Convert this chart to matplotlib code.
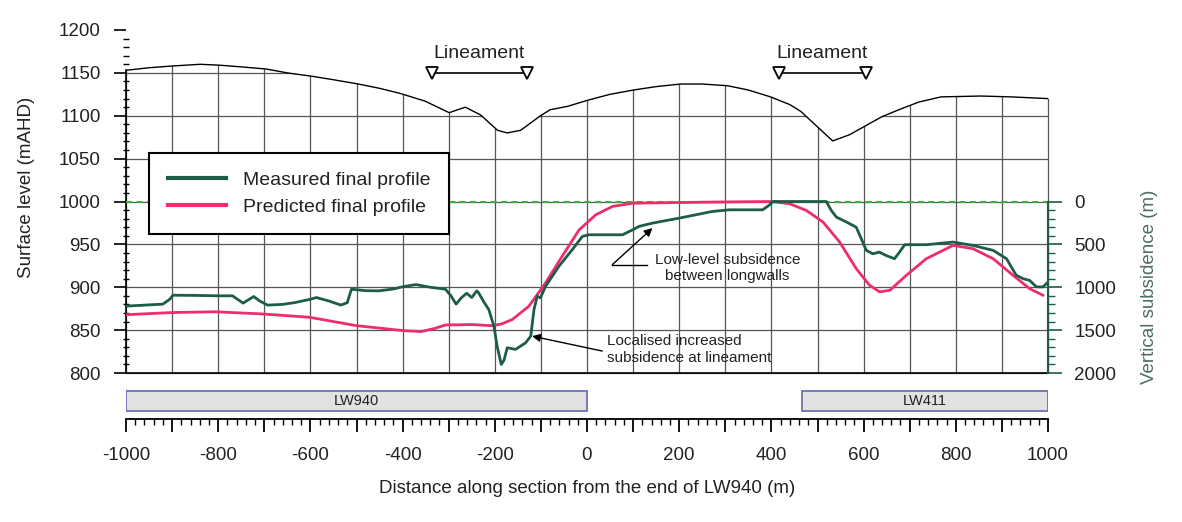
import numpy as np
import matplotlib
matplotlib.use("Agg")
import matplotlib.pyplot as plt
from matplotlib.ticker import MultipleLocator, FixedLocator, FuncFormatter
from matplotlib.patches import Polygon

plt.rcParams['font.family'] = ['Liberation Sans', 'DejaVu Sans']

# ---------------- data ----------------
terrain_x = [-1000, -950, -900, -839, -798, -750, -696, -650, -596, -550, -496, -450, -405,
             -351, -299, -264, -231, -194, -173, -144, -101, -80, -42, 1, 50, 101, 150,
             203, 250, 305, 350, 398, 440, 464, 500, 533, 570, 600, 640, 681, 720, 768,
             854, 920, 1000]
terrain_y = [1153, 1156, 1158, 1160, 1159, 1157, 1154.5, 1150, 1146, 1142, 1137, 1132, 1126,
             1117, 1103.6, 1110, 1101, 1083, 1080, 1083, 1100, 1107, 1111, 1118, 1125, 1130, 1134,
             1137, 1137, 1135, 1130, 1122, 1113, 1105, 1087, 1070.6, 1078, 1087, 1099, 1108, 1116, 1122,
             1123, 1122, 1120]

meas_x = [-1000, -920, -905, -898, -850, -800, -769, -746, -723, -710, -693, -660, -633,
          -600, -587, -560, -534, -520, -511, -480, -451, -420, -398, -371, -340, -307,
          -295, -284, -272, -261, -250, -239, -235, -223, -213, -202, -195, -186, -180,
          -173, -155, -133, -122, -115, -108, -101, -90, -61, -32, -10, 4, 77, 99, 113,
          142, 200, 272, 309, 381, 396, 403, 519, 530, 541, 563, 584, 595, 606, 620, 634,
          649, 667, 678, 689, 736, 794, 837, 881, 910, 931, 946, 960, 975, 989, 1000]
meas_s = [1220, 1197, 1140, 1093, 1095, 1100, 1100, 1185, 1108, 1160, 1208, 1200, 1178,
          1140, 1120, 1160, 1208, 1180, 1023, 1040, 1042, 1020, 992, 969, 1000, 1023,
          1100, 1197, 1120, 1070, 1120, 1042, 1066, 1178, 1260, 1453, 1686, 1900, 1850,
          1705, 1725, 1647, 1570, 1260, 1105, 1124, 990, 756, 562, 407, 388, 388, 330, 290,
          252, 194, 116, 97, 97, 40, 0, 0, 105, 182, 240, 300, 434, 570, 610, 590,
          630, 667, 590, 504, 504, 473, 512, 570, 667, 860, 900, 920, 996, 996, 940]

pred_x = [-1000, -900, -807, -708, -602, -500, -398, -360, -330, -307, -250, -208, -186,
          -162, -126, -90, -54, -17, 19, 55, 99, 200, 300, 400, 440, 476, 512, 548, 584,
          613, 635, 657, 693, 736, 794, 837, 881, 924, 960, 989]
pred_s = [1320, 1295, 1286, 1310, 1350, 1448, 1506, 1517, 1480, 1440, 1435, 1448, 1430,
          1376, 1221, 950, 640, 330, 155, 58, 20, 12, 5, 0, 27, 105, 240, 473, 783,
          977, 1054, 1035, 860, 667, 512, 550, 667, 860, 1016, 1093]

lineament_start = [-336, 416]
lineament_end = [-131, 605]

lw_names = ['LW940', 'LW411']
lw_start = [-1000, 466]
lw_end = [0, 1000]

x_ticks = list(range(-1000, 1001, 200))
left_ticks = list(range(800, 1201, 50))
right_ticks = [0, 500, 1000, 1500, 2000]

GREEN = '#1d5c45'
PINK = '#ee2d6a'
GRID = '#555555'
TXT = '#222222'

# ---------------- figure ----------------
W, H = 1182, 522
fig = plt.figure(figsize=(W / 100, H / 100), dpi=100)
ax = fig.add_axes([126 / W, 1 - 373 / H, 922 / W, 343 / H])
axb = fig.add_axes([126 / W, 1 - 419 / H, 922 / W, 39 / H])

ax.set_xlim(-1000, 1000)
ax.set_ylim(800, 1200)
ax.set_xticks([])
ax.set_yticks(left_ticks)
ax.yaxis.set_minor_locator(MultipleLocator(10))
ax.tick_params(axis='y', which='major', direction='out', length=9, width=1.2,
               labelsize=13.5, labelcolor=TXT, pad=9)
ax.tick_params(axis='y', which='minor', direction='inout', length=5, width=1)
for s in ['top', 'right']:
    ax.spines[s].set_visible(False)
ax.spines['left'].set_bounds(800, terrain_y[0])
ax.spines['left'].set_linewidth(1.2)
ax.spines['bottom'].set_linewidth(1.2)

# grid only below the ground surface
clip_poly = Polygon(list(zip([-1010] + terrain_x + [1010, 1010, -1010],
                             [terrain_y[0]] + terrain_y + [terrain_y[-1], 790, 790])),
                    closed=True, transform=ax.transData, fill=False, visible=False)
ax.add_patch(clip_poly)
vl = ax.vlines(np.arange(-1000, 1001, 100), 800, 1200, color=GRID, lw=0.9, zorder=1)
hl = ax.hlines(np.arange(800, 1201, 50), -1000, 1000, color=GRID, lw=0.9, zorder=1)
for coll in (vl, hl):
    coll.set_clip_on(True)
    coll.set_clip_path(clip_poly)
    coll.set_clip_box(None)

ax.plot(terrain_x, terrain_y, color='black', lw=1.0, zorder=2)

# lineaments
for a, b in zip(lineament_start, lineament_end):
    ax.plot([a, b], [1150, 1150], color='black', lw=1.2, zorder=3, clip_on=False)
    ax.plot([a, b], [1150, 1150], ls='none', marker='v', ms=9, mfc='white', mec='black',
            mew=1.3, zorder=4, clip_on=False)
    ax.text((a + b) / 2, 1173, 'Lineament', ha='center', va='center', fontsize=14,
            color=TXT, zorder=4)

ax.set_ylabel('Surface level (mAHD)', fontsize=13.5, color=TXT)
ax.yaxis.set_label_coords(-0.099, 0.542)

# subsidence axis
ax2 = ax.twinx()
ax2.set_ylim(2000, -2000)
ax2.set_yticks(right_ticks)
ax2.yaxis.set_minor_locator(FixedLocator(np.arange(0, 2001, 100)))
ax2.tick_params(axis='y', which='major', direction='out', length=10, width=1.2,
                colors=GREEN, labelcolor=TXT, labelsize=13.5, pad=9)
ax2.tick_params(axis='y', which='minor', direction='out', length=5, width=1,
                colors=GREEN)
for s in ['top', 'left', 'bottom']:
    ax2.spines[s].set_visible(False)
ax2.spines['right'].set_bounds(0, 2000)
ax2.spines['right'].set_color(GREEN)
ax2.spines['right'].set_linewidth(1.5)
ax2.set_ylabel('Vertical subsidence (m)', fontsize=13.5, color='#4d6e62', rotation=90)
ax2.yaxis.set_label_coords(1.101, 0.25)

ax2.axhline(0, color='#3fae3f', ls=(0, (3, 2)), lw=1.5, zorder=1)
l1, = ax2.plot(meas_x, meas_s, color=GREEN, lw=2.0, zorder=3,
               label='Measured final profile')
l2, = ax2.plot(pred_x, pred_s, color=PINK, lw=2.0, zorder=2,
               label='Predicted final profile')

leg = ax2.legend(handles=[l1, l2], loc='upper left', bbox_to_anchor=(0.025, 0.641),
                 fontsize=14, frameon=True, fancybox=False, framealpha=1,
                 edgecolor='black', handlelength=3.0, handletextpad=0.9,
                 borderpad=0.95, labelspacing=0.45, borderaxespad=0)
leg.get_frame().set_linewidth(1.5)
for t in leg.get_texts():
    t.set_color(TXT)
for h in leg.legend_handles:
    h.set_linewidth(3)

# annotations
ax2.text(305, 775, 'Low-level subsidence\nbetween longwalls', ha='center', va='center',
         fontsize=11, color=TXT, linespacing=1.2, zorder=5)
ax2.plot([55, 131], [736, 736], color='black', lw=1, zorder=5)
ax2.annotate('', xy=(142, 310), xytext=(55, 736),
             arrowprops=dict(arrowstyle='-|>', color='black', lw=1,
                             shrinkA=0, shrinkB=0, mutation_scale=12), zorder=5)
ax2.text(44, 1725, 'Localised increased\nsubsidence at lineament', ha='left', va='center',
         fontsize=11, color=TXT, linespacing=1.3, zorder=5)
ax2.annotate('', xy=(-119, 1570), xytext=(33, 1744),
             arrowprops=dict(arrowstyle='-|>', color='black', lw=1,
                             shrinkA=0, shrinkB=0, mutation_scale=12), zorder=5)

# ---------------- longwall bars + distance axis ----------------
axb.set_xlim(-1000, 1000)
axb.set_ylim(0, 1)
widths = [e - s for s, e in zip(lw_start, lw_end)]
axb.barh([0.46] * len(lw_names), widths, left=lw_start, height=0.52,
         color='#e2e2e2', edgecolor='#6464b4', lw=1.2)
for name, s, e in zip(lw_names, lw_start, lw_end):
    axb.text((s + e) / 2, 0.46, name, ha='center', va='center', fontsize=10.5, color=TXT)
for s in ['top', 'left', 'right']:
    axb.spines[s].set_visible(False)
axb.spines['bottom'].set_linewidth(1.3)
axb.set_yticks([])
axb.xaxis.set_major_locator(MultipleLocator(100))
axb.xaxis.set_minor_locator(MultipleLocator(20))
axb.xaxis.set_major_formatter(FuncFormatter(lambda v, p: f'{int(round(v))}' if int(round(v)) in x_ticks else ''))
axb.tick_params(axis='x', which='major', direction='out', length=9, width=1.3,
                labelsize=13.5, labelcolor=TXT, pad=11)
axb.tick_params(axis='x', which='minor', direction='out', length=4, width=1)
axb.set_xlabel('Distance along section from the end of LW940 (m)', fontsize=13.5,
               color=TXT, labelpad=12)

fig.savefig('out.png', dpi=100)
